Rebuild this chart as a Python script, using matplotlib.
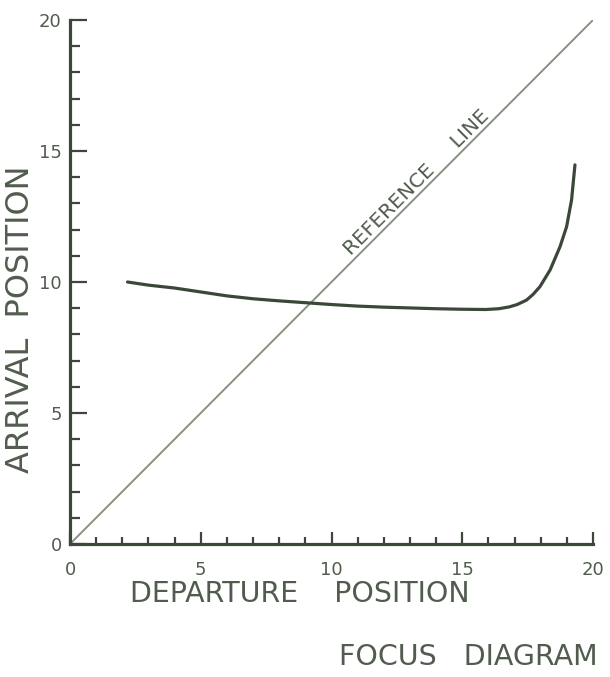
import matplotlib.pyplot as plt
from matplotlib.ticker import MultipleLocator

# focus curve
departure = [2.2, 3.0, 4.0, 5.0, 6.0, 7.0, 8.0, 9.0, 10.0, 11.0, 12.0, 13.0,
             14.0, 15.0, 15.9, 16.4, 16.8, 17.1, 17.46, 17.7, 17.97, 18.36,
             18.74, 18.99, 19.18, 19.31]
arrival = [10.0, 9.88, 9.77, 9.62, 9.47, 9.36, 9.28, 9.21, 9.14, 9.08, 9.04,
           9.01, 8.98, 8.96, 8.95, 8.98, 9.05, 9.14, 9.31, 9.52, 9.82, 10.46,
           11.35, 12.11, 13.13, 14.47]
ref_line = [0, 20]
ticks = [0, 5, 10, 15, 20]

axis_col = "#3b4739"
text_col = "#515c4e"
ref_col = "#87927f"
font = ["DejaVu Sans"]


def main():
    fig = plt.figure(figsize=(6.1, 6.77), dpi=100)
    ax = fig.add_axes([70 / 610, 1 - 544 / 677, 523 / 610, 524 / 677])

    ax.plot(ref_line, ref_line, color=ref_col, lw=1.4, solid_capstyle="butt")
    ax.plot(departure, arrival, color=axis_col, lw=2.3, solid_capstyle="round")

    ax.text(13.25, 13.8, "REFERENCE     LINE", rotation=45, rotation_mode="anchor",
            ha="center", va="center", fontsize=14.5, color=text_col, family=font)

    ax.set_xlim(0, 20)
    ax.set_ylim(0, 20)
    for side in ["top", "right"]:
        ax.spines[side].set_visible(False)
    for side in ["left", "bottom"]:
        ax.spines[side].set_linewidth(2.3)
        ax.spines[side].set_color(axis_col)
        ax.spines[side].set_capstyle("projecting")

    ax.set_xticks(ticks)
    ax.set_yticks(ticks)
    ax.xaxis.set_minor_locator(MultipleLocator(1))
    ax.yaxis.set_minor_locator(MultipleLocator(1))
    ax.tick_params(which="both", direction="in", width=1.6, color=axis_col,
                   labelsize=13, labelcolor=text_col)
    ax.tick_params(axis="x", which="major", length=9, pad=12)
    ax.tick_params(axis="x", which="minor", length=5)
    ax.tick_params(axis="y", which="major", length=12, pad=6)
    ax.tick_params(axis="y", which="minor", length=7)
    for lab in ax.get_xticklabels() + ax.get_yticklabels():
        lab.set_family(font)

    fig.text(21 / 610, 1 - 319 / 677, "ARRIVAL  POSITION", rotation=90,
             ha="center", va="center", fontsize=23, color=text_col, family=font)
    fig.text(300 / 610, 1 - 594 / 677, "DEPARTURE    POSITION",
             ha="center", va="center", fontsize=20.5, color=text_col, family=font)
    fig.text(468 / 610, 1 - 657 / 677, "FOCUS   DIAGRAM",
             ha="center", va="center", fontsize=20.5, color=text_col, family=font)

    fig.savefig("out.png", dpi=100, facecolor="white")


if __name__ == "__main__":
    main()
